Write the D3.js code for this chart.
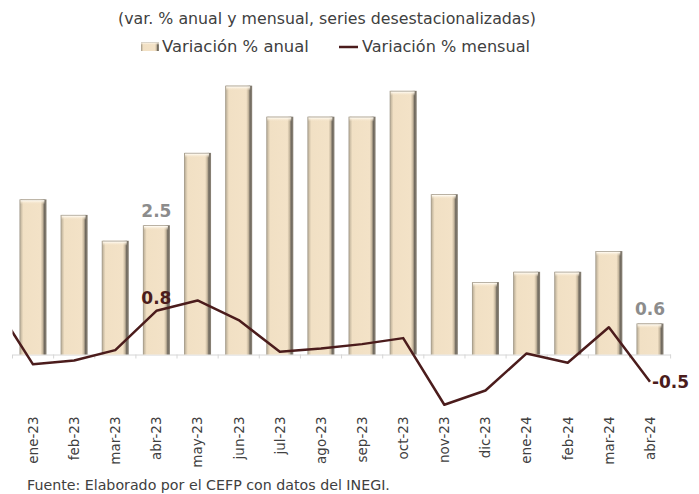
<!DOCTYPE html>
<html>
<head>
<meta charset="utf-8">
<script src="https://cdn.jsdelivr.net/npm/d3@7"></script>
<style>
  html, body { margin: 0; padding: 0; background: #ffffff; }
  svg { display: block; }
  text { font-family: "DejaVu Sans", "Noto Sans", sans-serif; }
</style>
</head>
<body>
<svg id="chart" width="699" height="494"></svg>
<script>
// Months on the category axis
const categories = ["ene-23","feb-23","mar-23","abr-23","may-23","jun-23","jul-23","ago-23",
                    "sep-23","oct-23","nov-23","dic-23","ene-24","feb-24","mar-24","abr-24"];
// Annual % change (bars)
const annual = [3.0, 2.7, 2.2, 2.5, 3.9, 5.2, 4.6, 4.6, 4.6, 5.1, 3.1, 1.4, 1.6, 1.6, 2.0, 0.6];
// Monthly % change (line); the line enters from the previous month, dic-22
const monthlyPrev = ["dic-22", 1.0];
const monthly = [-0.18, -0.11, 0.08, 0.8, 0.99, 0.63, 0.05, 0.11, 0.19, 0.3, -0.92, -0.66, 0.02, -0.15, 0.5, -0.5];
// Data labels shown on the chart (category index)
const annualLabelIdx = [3, 15];
const monthlyLabelIdx = [3, 15];

const titleText = "(var. % anual y mensual, series desestacionalizadas)";
const legendAnnual = "Variación % anual";
const legendMonthly = "Variación % mensual";
const sourceText = "Fuente: Elaborado por el CEFP con datos del INEGI.";

const svg = d3.select("#chart");
const plotLeft = 12.5, plotRight = 670.5, zeroY = 354.5;

const x = d3.scaleBand().domain(categories).range([plotLeft, plotRight])
  .paddingInner(0.343).paddingOuter(0.17);
const bw = x.bandwidth();
const cx = d => x(d) + bw / 2;

const yBar = d3.scaleLinear().domain([0, 6]).range([zeroY, zeroY - 6 * 51.7]);
const yLine = d3.scaleLinear().domain([0, 1]).range([zeroY, zeroY - 54.6]);

// Fit a text element's font size so it spans a given width
function fitWidth(sel, target) {
  const node = sel.node();
  const fs = parseFloat(sel.attr("font-size"));
  const w = node.getComputedTextLength();
  sel.attr("font-size", (fs * target / w).toFixed(2));
}

const defs = svg.append("defs");
const g1 = defs.append("linearGradient").attr("id", "barGrad").attr("x1", 0).attr("x2", 1).attr("y1", 0).attr("y2", 0);
[[0, "#9a9283"], [0.06, "#cdbfa6"], [0.14, "#f1e0c4"], [0.78, "#f3e2c7"], [0.86, "#c6b79e"],
 [0.92, "#6f685d"], [1, "#8e877b"]].forEach(([o, c]) => g1.append("stop").attr("offset", o).attr("stop-color", c));
const g2 = defs.append("linearGradient").attr("id", "capGrad").attr("x1", 0).attr("x2", 0).attr("y1", 0).attr("y2", 1);
[[0, "#8f887c", 1], [0.25, "#fffaf0", 0.95], [1, "#f3e2c7", 0]].forEach(([o, c, a]) =>
  g2.append("stop").attr("offset", o).attr("stop-color", c).attr("stop-opacity", a));
defs.append("clipPath").attr("id", "plotClip").append("rect")
  .attr("x", plotLeft).attr("y", 0).attr("width", plotRight - plotLeft).attr("height", 494);

// Title
const title = svg.append("text").attr("x", 327).attr("y", 24).attr("text-anchor", "middle")
  .attr("font-size", 15).attr("fill", "#404040").text(titleText);
fitWidth(title, 418);

// Legend
const leg = svg.append("g");
leg.append("rect").attr("x", 141).attr("y", 42).attr("width", 18).attr("height", 9)
  .attr("fill", "url(#barGrad)");
leg.append("rect").attr("x", 141).attr("y", 42).attr("width", 18).attr("height", 3)
  .attr("fill", "url(#capGrad)");
const lt1 = leg.append("text").attr("x", 162).attr("y", 52).attr("font-size", 15)
  .attr("fill", "#404040").text(legendAnnual);
fitWidth(lt1, 147);
leg.append("line").attr("x1", 339).attr("x2", 358).attr("y1", 47).attr("y2", 47)
  .attr("stroke", "#4b1c1c").attr("stroke-width", 2.5);
const lt2 = leg.append("text").attr("x", 362).attr("y", 52).attr("font-size", 15)
  .attr("fill", "#404040").text(legendMonthly);
fitWidth(lt2, 168);

// Category axis with rotated labels
const axis = svg.append("g").attr("transform", `translate(0,${zeroY})`)
  .call(d3.axisBottom(x).tickSize(0).tickPadding(0));
axis.select(".domain").attr("stroke", "#d6d6d6").attr("stroke-width", 1);
axis.selectAll(".tick text")
  .attr("transform", "rotate(-90)")
  .attr("text-anchor", "end")
  .attr("x", -62).attr("y", 0).attr("dy", "0.36em")
  .attr("font-size", 13.5).attr("fill", "#404040")
  .style("font-family", '"DejaVu Sans", sans-serif');
// small separator marks between categories
const bounds = d3.range(categories.length + 1).map(i => plotLeft + i * x.step());
axis.selectAll(".sep").data(bounds).join("line").attr("class", "sep")
  .attr("x1", d => d).attr("x2", d => d).attr("y1", 0).attr("y2", 4)
  .attr("stroke", "#d6d6d6").attr("stroke-width", 1);

// Bars
const bars = svg.append("g").selectAll("g").data(categories).join("g");
bars.append("rect")
  .attr("x", d => x(d)).attr("width", bw)
  .attr("y", (d, i) => yBar(annual[i])).attr("height", (d, i) => zeroY - yBar(annual[i]))
  .attr("fill", "url(#barGrad)");
bars.append("rect")
  .attr("x", d => x(d) + 1).attr("width", bw - 3)
  .attr("y", (d, i) => yBar(annual[i])).attr("height", 5)
  .attr("fill", "url(#capGrad)");

// Monthly line
const pts = [[cx(categories[0]) - x.step(), monthlyPrev[1]]]
  .concat(categories.map((c, i) => [cx(c), monthly[i]]));
svg.append("path")
  .attr("clip-path", "url(#plotClip)")
  .attr("d", d3.line().x(d => d[0]).y(d => yLine(d[1]))(pts))
  .attr("fill", "none").attr("stroke", "#4b1c1c").attr("stroke-width", 2.5)
  .attr("stroke-linejoin", "round");

// Data labels (plain hyphen as minus sign)
const fmt = d3.formatLocale({ decimal: ".", thousands: ",", grouping: [3], currency: ["", ""], minus: "-" }).format(".1f");
svg.append("g").selectAll("text").data(annualLabelIdx).join("text")
  .attr("x", i => cx(categories[i])).attr("y", i => yBar(annual[i]) - 8)
  .attr("text-anchor", "middle").attr("font-size", 17).attr("font-weight", "bold")
  .attr("fill", "#8c8c8c").text(i => fmt(annual[i]));
svg.append("text")
  .attr("x", cx(categories[monthlyLabelIdx[0]])).attr("y", yLine(monthly[monthlyLabelIdx[0]]) - 7)
  .attr("text-anchor", "middle").attr("font-size", 17).attr("font-weight", "bold")
  .attr("fill", "#4b1c1c").text(fmt(monthly[monthlyLabelIdx[0]]));
svg.append("text")
  .attr("x", cx(categories[monthlyLabelIdx[1]]) + 2).attr("y", yLine(monthly[monthlyLabelIdx[1]]) + 6)
  .attr("text-anchor", "start").attr("font-size", 17).attr("font-weight", "bold")
  .attr("fill", "#4b1c1c").text(fmt(monthly[monthlyLabelIdx[1]]));

// Source note
const src = svg.append("text").attr("x", 27).attr("y", 490).attr("font-size", 13)
  .attr("fill", "#404040").text(sourceText);
fitWidth(src, 363);
</script>
</body>
</html>
